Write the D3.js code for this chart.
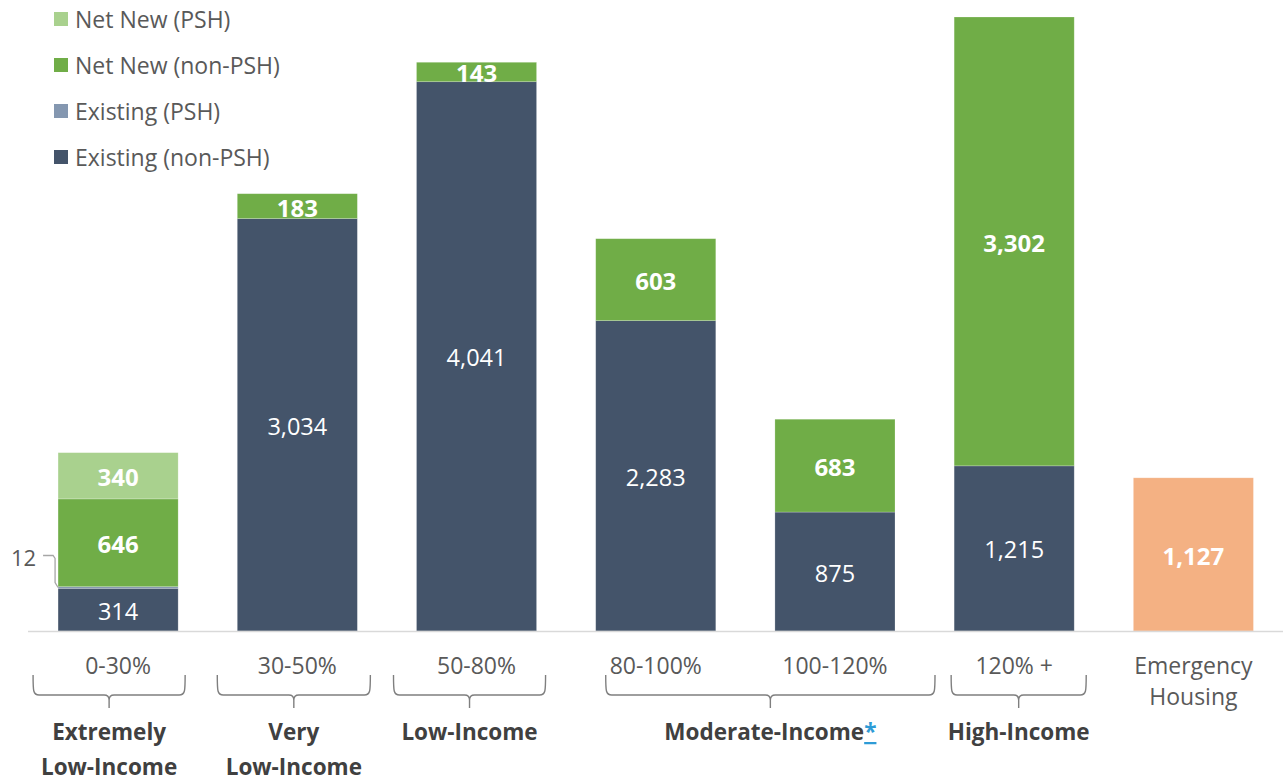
<!DOCTYPE html>
<html>
<head>
<meta charset="utf-8">
<script src="https://cdn.jsdelivr.net/npm/d3@7"></script>
<style>
  html, body { margin: 0; padding: 0; background: #fff; }
  svg { display: block; font-family: "Open Sans", "Noto Sans", sans-serif; }
</style>
</head>
<body>
<svg id="chart" width="1283" height="783"></svg>
<script>
// Income bands along the x axis
const categories = ["0-30%", "30-50%", "50-80%", "80-100%", "100-120%", "120% +", "Emergency Housing"];

// Housing units per band, by series
const existingNonPSH = [314, 3034, 4041, 2283, 875, 1215, 0];
const existingPSH    = [12, 0, 0, 0, 0, 0, 0];
const netNewNonPSH   = [646, 183, 143, 603, 683, 3302, 0];
const netNewPSH      = [340, 0, 0, 0, 0, 0, 0];
const emergency      = [0, 0, 0, 0, 0, 0, 1127];

// Legend entries, top to bottom
const legendLabels = ["Net New (PSH)", "Net New (non-PSH)", "Existing (PSH)", "Existing (non-PSH)"];

// Income groups shown beneath the bands
const groupLabels = [["Extremely", "Low-Income"], ["Very", "Low-Income"], ["Low-Income"], ["Moderate-Income"], ["High-Income"]];
const groupSpans  = [[0, 0], [1, 1], [2, 2], [3, 4], [5, 5]];

const seriesKeys = ["existingNonPSH", "existingPSH", "netNewNonPSH", "netNewPSH", "emergency"];
const seriesData = { existingNonPSH, existingPSH, netNewNonPSH, netNewPSH, emergency };
const colors = {
  existingNonPSH: "#44546A",
  existingPSH: "#8497B0",
  netNewNonPSH: "#70AD47",
  netNewPSH: "#A9D18E",
  emergency: "#F4B183"
};
const legendColors = [colors.netNewPSH, colors.netNewNonPSH, colors.existingPSH, colors.existingNonPSH];

const rows = categories.map((c, i) => {
  const r = { category: c };
  seriesKeys.forEach(k => r[k] = seriesData[k][i]);
  return r;
});
const stacked = d3.stack().keys(seriesKeys)(rows);

const svg = d3.select("#chart");
const baseY = 631;
const totals = rows.map(r => d3.sum(seriesKeys, k => r[k]));

const x = d3.scaleBand().domain(categories).range([28.5, 1283]).paddingInner(0.33).paddingOuter(0.165);
const y = d3.scaleLinear().domain([0, d3.max(totals)]).range([baseY, 17]);

// Bars
const layers = svg.append("g").selectAll("g").data(stacked).join("g")
  .attr("fill", d => colors[d.key]);
layers.selectAll("rect").data(d => d.map(s => ({ s, key: d.key })))
  .join("rect")
  .filter(d => d.s[1] - d.s[0] > 0)
  .attr("x", d => x(d.s.data.category))
  .attr("width", x.bandwidth())
  .attr("y", d => y(d.s[1]))
  .attr("height", d => y(d.s[0]) - y(d.s[1]))
  .attr("stroke", "rgba(255,255,255,0.3)")
  .attr("stroke-width", 0.7);

// Baseline
svg.append("line")
  .attr("x1", 28).attr("x2", 1283)
  .attr("y1", baseY + 0.5).attr("y2", baseY + 0.5)
  .attr("stroke", "#D9D9D9").attr("stroke-width", 1.5);

// Value labels inside segments
const fmt = d3.format(",");
const labelStyle = {
  existingNonPSH: { weight: 400, size: 23.5 },
  netNewNonPSH: { weight: 700, size: 24 },
  netNewPSH: { weight: 700, size: 24 },
  emergency: { weight: 700, size: 24 }
};
stacked.forEach(layer => {
  const st = labelStyle[layer.key];
  if (!st) return;
  layer.forEach(s => {
    const v = s[1] - s[0];
    if (v <= 0) return;
    svg.append("text")
      .attr("x", x(s.data.category) + x.bandwidth() / 2)
      .attr("y", (y(s[0]) + y(s[1])) / 2 + 1)
      .attr("text-anchor", "middle")
      .attr("dominant-baseline", "central")
      .attr("fill", "#fff")
      .attr("font-size", st.size)
      .attr("font-weight", st.weight)
      .text(fmt(v));
  });
});

// Callout for the thin existing PSH slice
stacked.find(l => l.key === "existingPSH").forEach(s => {
  const v = s[1] - s[0];
  if (v <= 0) return;
  const bx = x(s.data.category);
  const my = (y(s[0]) + y(s[1])) / 2;
  svg.append("path")
    .attr("d", `M${bx - 15},${my - 32} H${bx - 5} L${bx - 3},${my - 29} V${my - 5} L${bx},${my}`)
    .attr("fill", "none").attr("stroke", "#A6A6A6").attr("stroke-width", 1.3);
  svg.append("text")
    .attr("x", bx - 22).attr("y", my - 31)
    .attr("text-anchor", "end").attr("dominant-baseline", "central")
    .attr("fill", "#595959").attr("font-size", 22)
    .text(fmt(v));
});

// Category labels
categories.forEach(c => {
  const words = c === "Emergency Housing" ? ["Emergency", "Housing"] : [c];
  const t = svg.append("text")
    .attr("x", x(c) + x.bandwidth() / 2)
    .attr("y", 674)
    .attr("text-anchor", "middle")
    .attr("fill", "#595959")
    .attr("font-size", 23);
  words.forEach((w, i) => t.append("tspan")
    .attr("x", x(c) + x.bandwidth() / 2)
    .attr("dy", i === 0 ? 0 : 31)
    .text(w));
});

// Braces and group labels
const braceExtents = [[-25, 7], [-20, 13], [-23, 9], [10, 40], [-3, 12]];
groupSpans.forEach((sp, gi) => {
  const x0 = x(categories[sp[0]]) + braceExtents[gi][0];
  const x1 = x(categories[sp[1]]) + x.bandwidth() + braceExtents[gi][1];
  const cx = (x0 + x1) / 2;
  const top = 675, mid = 695, tip = 708;
  svg.append("path")
    .attr("d", `M${x0},${top} C${x0},${mid - 4} ${x0},${mid} ${x0 + 6},${mid} L${cx - 5},${mid} Q${cx},${mid} ${cx},${mid + 5} L${cx},${tip} M${cx},${mid + 5} Q${cx},${mid} ${cx + 5},${mid} L${x1 - 6},${mid} C${x1},${mid} ${x1},${mid - 4} ${x1},${top}`)
    .attr("fill", "none").attr("stroke", "#7F7F7F").attr("stroke-width", 1.4);
  const t = svg.append("text")
    .attr("x", cx).attr("y", 740)
    .attr("text-anchor", "middle")
    .attr("fill", "#404040")
    .attr("font-size", 22.5)
    .attr("font-weight", 700);
  groupLabels[gi].forEach((w, i) => t.append("tspan")
    .attr("x", cx).attr("dy", i === 0 ? 0 : 35)
    .text(w));
  if (groupLabels[gi][0] === "Moderate-Income") {
    t.append("tspan").attr("fill", "#2E9BD6").attr("text-decoration", "underline").text("*");
  }
});

// Legend
const legend = svg.append("g");
legendLabels.forEach((lab, i) => {
  const ly = 19 + i * 46;
  legend.append("rect").attr("x", 54).attr("y", ly - 7).attr("width", 14).attr("height", 14)
    .attr("fill", legendColors[i]);
  legend.append("text").attr("x", 75).attr("y", ly).attr("dominant-baseline", "central")
    .attr("fill", "#595959").attr("font-size", 23).text(lab);
});
</script>
</body>
</html>
